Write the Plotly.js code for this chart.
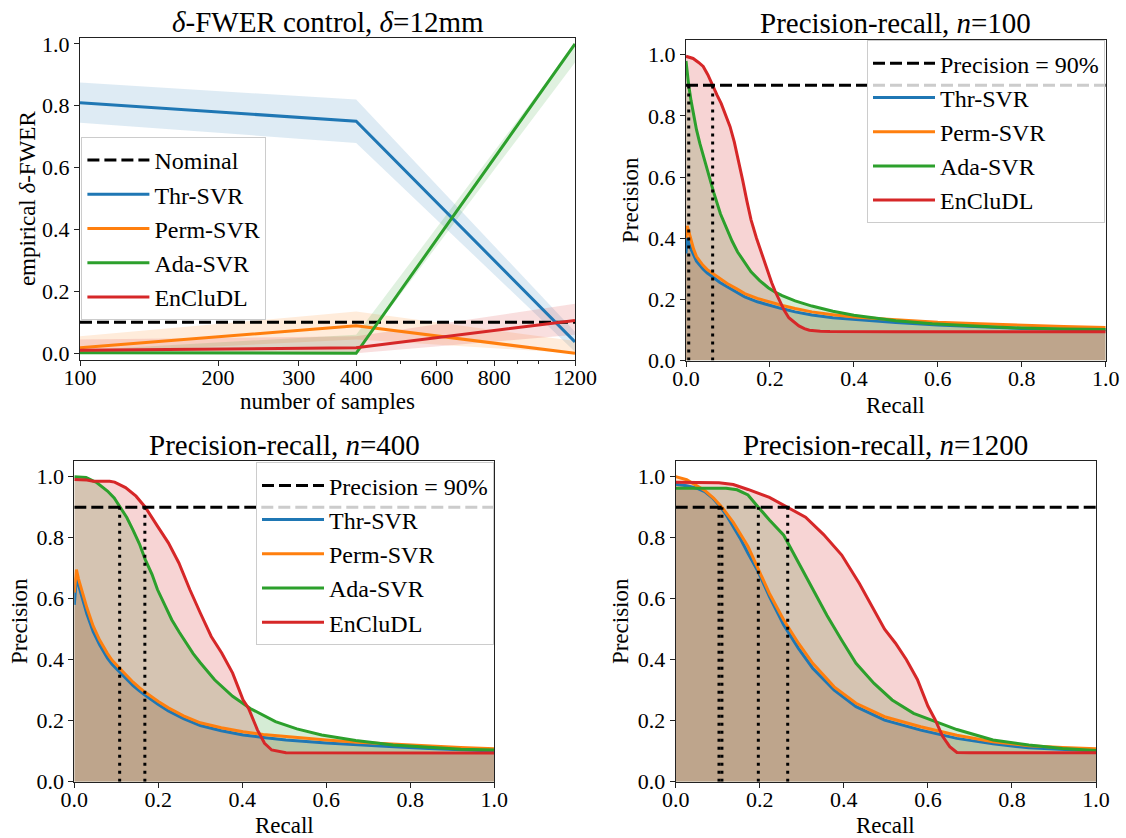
<!DOCTYPE html>
<html>
<head>
<meta charset="utf-8">
<script src="https://cdn.plot.ly/plotly-3.0.1.min.js"></script>
<style>html,body{margin:0;padding:0;background:#fff;}#chart{width:1126px;height:838px;}</style>
</head>
<body>
<div id="chart"></div>
<script>
// ---------------- data: delta-FWER panel ----------------
const samples = [100, 400, 1200];
const fwerThr = [0.81, 0.75, 0.037];
const fwerThrLo = [0.745, 0.68, 0.005];
const fwerThrHi = [0.875, 0.82, 0.07];
const fwerPerm = [0.018, 0.089, 0.0];
const fwerPermLo = [0.0, 0.045, 0.0];
const fwerPermHi = [0.055, 0.135, 0.04];
const fwerAda = [0.002, 0.0, 1.0];
const fwerAdaLo = [0.0, 0.0, 0.94];
const fwerAdaHi = [0.01, 0.06, 1.0];
const fwerEnc = [0.01, 0.018, 0.106];
const fwerEncLo = [0.0, 0.0, 0.06];
const fwerEncHi = [0.045, 0.055, 0.16];
const nominalLevel = 0.1;
const sampleTicks = [100, 200, 300, 400, 600, 800, 1200];
const sampleTickText = ['100', '200', '300', '400', '600', '800', '1200'];
const sampleMinorTicks = [500, 700, 900, 1000];

// ---------------- data: precision-recall, n=100 ----------------
const rThr100 = [0, 0.003, 0.01, 0.018, 0.025, 0.04, 0.05, 0.063, 0.08, 0.098, 0.12, 0.14, 0.17, 0.196, 0.23, 0.26, 0.3, 0.35, 0.4, 0.5, 0.6, 0.7, 0.8, 0.9, 1.0];
const pThr100 = [0.35, 0.40, 0.37, 0.345, 0.325, 0.30, 0.287, 0.274, 0.256, 0.241, 0.224, 0.208, 0.192, 0.181, 0.169, 0.159, 0.149, 0.14, 0.134, 0.124, 0.116, 0.11, 0.105, 0.102, 0.1];
const rPerm100 = [0, 0.003, 0.01, 0.018, 0.025, 0.04, 0.05, 0.063, 0.08, 0.098, 0.12, 0.14, 0.17, 0.196, 0.23, 0.26, 0.3, 0.35, 0.4, 0.5, 0.6, 0.7, 0.8, 0.9, 1.0];
const pPerm100 = [0.40, 0.44, 0.405, 0.365, 0.34, 0.312, 0.298, 0.285, 0.267, 0.252, 0.235, 0.219, 0.203, 0.192, 0.18, 0.17, 0.159, 0.15, 0.142, 0.133, 0.125, 0.12, 0.115, 0.111, 0.108];
const rAda100 = [0, 0.003, 0.0065, 0.012, 0.017, 0.025, 0.033, 0.042, 0.05, 0.066, 0.082, 0.098, 0.11, 0.123, 0.14, 0.155, 0.175, 0.196, 0.212, 0.229, 0.26, 0.3, 0.35, 0.4, 0.5, 0.587, 0.7, 0.8, 0.9, 1.0];
const pAda100 = [0.98, 0.94, 0.90, 0.85, 0.81, 0.755, 0.71, 0.665, 0.625, 0.55, 0.48, 0.425, 0.39, 0.355, 0.32, 0.29, 0.262, 0.238, 0.224, 0.212, 0.195, 0.178, 0.161, 0.148, 0.13, 0.12, 0.112, 0.106, 0.103, 0.101];
const rEnc100 = [0, 0.017, 0.03, 0.041, 0.052, 0.063, 0.074, 0.084, 0.094, 0.105, 0.115, 0.125, 0.135, 0.145, 0.155, 0.168, 0.18, 0.192, 0.204, 0.212, 0.225, 0.234, 0.245, 0.257, 0.269, 0.282, 0.294, 0.32, 0.343, 0.5, 1.0];
const pEnc100 = [0.995, 0.988, 0.975, 0.962, 0.935, 0.90, 0.868, 0.84, 0.807, 0.765, 0.715, 0.655, 0.59, 0.522, 0.46, 0.40, 0.35, 0.30, 0.255, 0.228, 0.19, 0.164, 0.14, 0.125, 0.113, 0.104, 0.099, 0.096, 0.095, 0.094, 0.094];
const rec90_100 = [0.0065, 0.0635];

// ---------------- data: precision-recall, n=400 ----------------
const rThr400 = [0, 0.005, 0.01, 0.02, 0.03, 0.045, 0.06, 0.079, 0.09, 0.109, 0.125, 0.14, 0.155, 0.169, 0.2, 0.224, 0.26, 0.3, 0.35, 0.402, 0.45, 0.504, 0.6, 0.674, 0.75, 0.844, 0.92, 1.0];
const pThr400 = [0.58, 0.67, 0.645, 0.595, 0.55, 0.492, 0.45, 0.405, 0.385, 0.358, 0.335, 0.315, 0.298, 0.283, 0.253, 0.232, 0.207, 0.184, 0.167, 0.153, 0.145, 0.137, 0.127, 0.12, 0.115, 0.109, 0.105, 0.101];
const rPerm400 = [0, 0.005, 0.01, 0.02, 0.03, 0.045, 0.06, 0.079, 0.09, 0.109, 0.125, 0.14, 0.155, 0.169, 0.2, 0.224, 0.26, 0.3, 0.35, 0.402, 0.45, 0.504, 0.6, 0.674, 0.75, 0.844, 0.92, 1.0];
const pPerm400 = [0.62, 0.695, 0.665, 0.615, 0.57, 0.51, 0.465, 0.42, 0.398, 0.37, 0.346, 0.326, 0.308, 0.293, 0.263, 0.242, 0.216, 0.193, 0.177, 0.164, 0.155, 0.148, 0.137, 0.129, 0.123, 0.117, 0.112, 0.108];
const rAda400 = [0, 0.028, 0.054, 0.079, 0.095, 0.109, 0.125, 0.139, 0.155, 0.169, 0.185, 0.198, 0.215, 0.232, 0.25, 0.266, 0.283, 0.3, 0.334, 0.377, 0.419, 0.479, 0.53, 0.589, 0.67, 0.759, 0.85, 0.92, 1.0];
const pAda400 = [1.0, 0.997, 0.98, 0.953, 0.93, 0.90, 0.866, 0.827, 0.78, 0.728, 0.68, 0.63, 0.58, 0.531, 0.49, 0.455, 0.42, 0.39, 0.334, 0.28, 0.24, 0.197, 0.173, 0.153, 0.135, 0.12, 0.111, 0.106, 0.104];
const rEnc400 = [0, 0.03, 0.045, 0.084, 0.096, 0.122, 0.147, 0.169, 0.198, 0.224, 0.249, 0.275, 0.3, 0.326, 0.351, 0.377, 0.39, 0.402, 0.415, 0.436, 0.453, 0.47, 0.504, 1.0];
const pEnc400 = [0.991, 0.989, 0.985, 0.985, 0.982, 0.964, 0.936, 0.90, 0.838, 0.783, 0.717, 0.63, 0.553, 0.476, 0.422, 0.356, 0.31, 0.268, 0.24, 0.17, 0.126, 0.104, 0.095, 0.094];
const rec90_400 = [0.108, 0.168];

// ---------------- data: precision-recall, n=1200 ----------------
const rThr1200 = [0, 0.026, 0.05, 0.069, 0.088, 0.107, 0.12, 0.137, 0.155, 0.172, 0.196, 0.223, 0.257, 0.292, 0.326, 0.377, 0.429, 0.497, 0.583, 0.669, 0.755, 0.84, 0.92, 1.0];
const pThr1200 = [0.975, 0.97, 0.962, 0.951, 0.93, 0.9, 0.875, 0.836, 0.794, 0.749, 0.689, 0.607, 0.514, 0.437, 0.372, 0.30, 0.246, 0.202, 0.169, 0.142, 0.124, 0.111, 0.105, 0.101];
const rPerm1200 = [0, 0.026, 0.069, 0.09, 0.11, 0.137, 0.172, 0.196, 0.223, 0.257, 0.292, 0.326, 0.377, 0.429, 0.497, 0.583, 0.669, 0.755, 0.84, 0.92, 1.0];
const pPerm1200 = [1.0, 0.99, 0.955, 0.93, 0.9, 0.85, 0.771, 0.70, 0.617, 0.53, 0.454, 0.388, 0.311, 0.257, 0.213, 0.18, 0.152, 0.131, 0.118, 0.112, 0.108];
const rAda1200 = [0, 0.12, 0.146, 0.172, 0.1966, 0.223, 0.257, 0.292, 0.326, 0.36, 0.395, 0.429, 0.472, 0.515, 0.566, 0.617, 0.669, 0.755, 0.84, 0.92, 1.0];
const pAda1200 = [0.962, 0.962, 0.957, 0.94, 0.9, 0.858, 0.808, 0.72, 0.632, 0.545, 0.464, 0.388, 0.322, 0.268, 0.224, 0.197, 0.171, 0.137, 0.12, 0.109, 0.102];
const rEnc1200 = [0, 0.103, 0.137, 0.172, 0.223, 0.2665, 0.309, 0.352, 0.395, 0.437, 0.472, 0.497, 0.523, 0.549, 0.575, 0.6, 0.617, 0.635, 0.652, 0.669, 0.7, 1.0];
const pEnc1200 = [0.982, 0.98, 0.974, 0.958, 0.932, 0.9, 0.867, 0.81, 0.743, 0.65, 0.565, 0.5, 0.454, 0.4, 0.335, 0.248, 0.204, 0.149, 0.115, 0.096, 0.095, 0.095];
const rec90_1200 = [0.103, 0.110, 0.1966, 0.2665];

const precisionTarget = 0.9;
const methodNames = ['Thr-SVR', 'Perm-SVR', 'Ada-SVR', 'EnCluDL'];

// ---------------- styling ----------------
const FONT = "'Liberation Serif', 'DejaVu Serif', 'Noto Serif', serif";
const COLORS = ['#1f77b4', '#ff7f0e', '#2ca02c', '#d62728'];
function rgba(hex, a) {
  const n = parseInt(hex.slice(1), 16);
  return 'rgba(' + ((n >> 16) & 255) + ',' + ((n >> 8) & 255) + ',' + (n & 255) + ',' + a + ')';
}
const W = 1126, H = 838;
const px = v => v / W;
const py = v => 1 - v / H;

const traces = [];

// ----- panel 1: FWER -----
const fwerSeries = [
  [fwerThr, fwerThrLo, fwerThrHi],
  [fwerPerm, fwerPermLo, fwerPermHi],
  [fwerAda, fwerAdaLo, fwerAdaHi],
  [fwerEnc, fwerEncLo, fwerEncHi]
];
fwerSeries.forEach((s, i) => {
  traces.push({x: samples, y: s[1], xaxis: 'x', yaxis: 'y', mode: 'lines', line: {width: 0, color: 'rgba(0,0,0,0)'}, showlegend: false, hoverinfo: 'skip'});
  traces.push({x: samples, y: s[2], xaxis: 'x', yaxis: 'y', mode: 'lines', line: {width: 0, color: 'rgba(0,0,0,0)'}, fill: 'tonexty', fillcolor: rgba(COLORS[i], 0.15), showlegend: false, hoverinfo: 'skip'});
});
traces.push({x: [samples[0], samples[samples.length - 1]], y: [nominalLevel, nominalLevel], xaxis: 'x', yaxis: 'y', mode: 'lines', name: 'Nominal', line: {color: '#000', width: 3, dash: '12px,5px'}, legend: 'legend'});
fwerSeries.forEach((s, i) => {
  traces.push({x: samples, y: s[0], xaxis: 'x', yaxis: 'y', mode: 'lines', name: methodNames[i], line: {color: COLORS[i], width: 3}, legend: 'legend'});
});

// ----- PR panels: all fills first, then the lines on top -----
function addPR(xa, ya, curves, rec90, legendId) {
  curves.forEach((c, i) => {
    traces.push({x: c[0], y: c[1], xaxis: xa, yaxis: ya, mode: 'lines',
      line: {width: 0, color: 'rgba(0,0,0,0)'}, fill: 'tozeroy', fillcolor: rgba(COLORS[i], 0.2),
      showlegend: false, hoverinfo: 'skip'});
  });
  curves.forEach((c, i) => {
    traces.push({x: c[0], y: c[1], xaxis: xa, yaxis: ya, mode: 'lines', name: methodNames[i],
      line: {color: COLORS[i], width: 3}, showlegend: !!legendId, legend: legendId || 'legend'});
  });
  traces.push({x: [0, 1], y: [precisionTarget, precisionTarget], xaxis: xa, yaxis: ya, mode: 'lines',
    name: 'Precision = 90%', line: {color: '#000', width: 3, dash: '12px,5px'},
    showlegend: !!legendId, legend: legendId || 'legend', legendrank: 1});
  const vx = [], vy = [];
  rec90.forEach(r => { vx.push(r, r, null); vy.push(0, precisionTarget, null); });
  traces.push({x: vx, y: vy, xaxis: xa, yaxis: ya, mode: 'lines', line: {color: '#000', width: 3, dash: '3px,5px'}, showlegend: false, hoverinfo: 'skip'});
}
addPR('x2', 'y2', [[rThr100, pThr100], [rPerm100, pPerm100], [rAda100, pAda100], [rEnc100, pEnc100]], rec90_100, 'legend2');
addPR('x3', 'y3', [[rThr400, pThr400], [rPerm400, pPerm400], [rAda400, pAda400], [rEnc400, pEnc400]], rec90_400, 'legend3');
addPR('x4', 'y4', [[rThr1200, pThr1200], [rPerm1200, pPerm1200], [rAda1200, pAda1200], [rEnc1200, pEnc1200]], rec90_1200, null);

// ----- axes -----
function ax(extra) {
  return Object.assign({
    showline: true, linecolor: '#222', linewidth: 1, mirror: true,
    ticks: 'outside', ticklen: 5, tickwidth: 1, tickcolor: '#222',
    showgrid: false, zeroline: false,
    tickfont: {family: FONT, size: 22, color: '#000'}
  }, extra);
}
const prX = {range: [0, 1], tickmode: 'array', tickvals: [0, 0.2, 0.4, 0.6, 0.8, 1.0], tickformat: '.1f', ticklabelstandoff: -7};
const prY = {range: [0, 1.05], tickmode: 'array', tickvals: [0, 0.2, 0.4, 0.6, 0.8, 1.0], tickformat: '.1f'};

const legendBase = {bgcolor: 'rgba(255,255,255,0.8)', bordercolor: '#cccccc', borderwidth: 1,
  font: {family: FONT, size: 24, color: '#000'}, itemwidth: 62, xanchor: 'left', yanchor: 'top',
  tracegroupgap: 0, traceorder: 'normal'};

const annFont = s => ({family: FONT, size: s, color: '#000'});
const ann = (text, x, y, size, angle) => ({text: text, x: x, y: y, xref: 'paper', yref: 'paper', showarrow: false,
  xanchor: 'center', yanchor: 'middle', font: annFont(size), textangle: angle || 0});

const layout = {
  width: W, height: H, margin: {l: 0, r: 0, t: 0, b: 0},
  paper_bgcolor: '#fff', plot_bgcolor: 'rgba(0,0,0,0)',
  font: {family: FONT, color: '#000'},
  showlegend: true,
  xaxis: ax({domain: [px(80), px(575)], anchor: 'y', type: 'log', range: [Math.log10(100), Math.log10(1200)],
    tickmode: 'array', tickvals: sampleTicks, ticktext: sampleTickText, ticklabelstandoff: -7,
    minor: {tickmode: 'array', tickvals: sampleMinorTicks, ticks: 'outside', ticklen: 3, tickcolor: '#222', showgrid: false}}),
  yaxis: ax({domain: [py(359.5), py(37.7)], anchor: 'x', range: [-0.02, 1.02], tickmode: 'array', tickvals: [0, 0.2, 0.4, 0.6, 0.8, 1.0], tickformat: '.1f'}),
  xaxis2: ax(Object.assign({domain: [px(686), px(1105.7)], anchor: 'y2'}, prX)),
  yaxis2: ax(Object.assign({domain: [py(360.5), py(39.5)], anchor: 'x2'}, prY)),
  xaxis3: ax(Object.assign({domain: [px(74.3), px(494.3)], anchor: 'y3'}, prX)),
  yaxis3: ax(Object.assign({domain: [py(781.7), py(461.4)], anchor: 'x3'}, prY)),
  xaxis4: ax(Object.assign({domain: [px(675.7), px(1096)], anchor: 'y4'}, prX)),
  yaxis4: ax(Object.assign({domain: [py(781.7), py(461.4)], anchor: 'x4'}, prY)),
  legend: Object.assign({}, legendBase, {x: px(81.4), y: py(137)}),
  legend2: Object.assign({}, legendBase, {x: px(1105), y: py(40.2), xanchor: 'right'}),
  legend3: Object.assign({}, legendBase, {x: px(494), y: py(462.3), xanchor: 'right'}),
  annotations: [
    ann('<i>δ</i>-FWER control, <i>δ</i>=12mm', px(327.5), py(22), 29),
    ann('Precision-recall, <i>n</i>=100', px(895.9), py(23), 29),
    ann('Precision-recall, <i>n</i>=400', px(284.3), py(445), 29),
    ann('Precision-recall, <i>n</i>=1200', px(885.9), py(445), 29),
    ann('number of samples', px(327.5), py(401.7), 23),
    ann('Recall', px(895.9), py(406), 23),
    ann('Recall', px(284.3), py(825), 23),
    ann('Recall', px(885.9), py(825), 23),
    ann('empirical <i>δ</i>-FWER', px(27.5), py(198.6), 23, -90),
    ann('Precision', px(631), py(200), 23, -90),
    ann('Precision', px(19.6), py(621.5), 23, -90),
    ann('Precision', px(620.6), py(621.5), 23, -90)
  ]
};

Plotly.newPlot('chart', traces, layout, {staticPlot: true, displayModeBar: false});
</script>
</body>
</html>
